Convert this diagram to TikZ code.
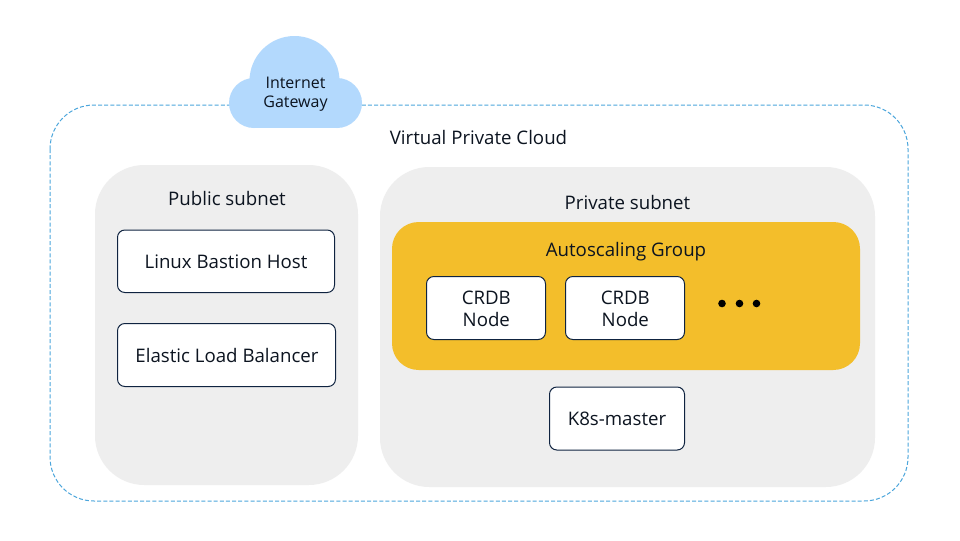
\documentclass[tikz,border=0pt]{standalone}
\usepackage{fontspec}
\setmainfont{Open Sans}
\definecolor{cloudblue}{HTML}{B3D9FD}
\definecolor{dashblue}{HTML}{4CA6DC}
\definecolor{panelgray}{HTML}{EEEEEE}
\definecolor{asgyellow}{HTML}{F3BE2B}
\definecolor{boxline}{HTML}{0F2340}
\definecolor{inktext}{HTML}{0C1420}
\tikzset{
  x=0.75pt,y=-0.75pt,
  txt/.style={inner sep=0pt,text=inktext,font=\fontsize{14pt}{16.5pt}\selectfont,align=center},
  whitebox/.style={draw=boxline,fill=white,line width=0.75pt,rounded corners=5.5pt},
  panel/.style={fill=panelgray,rounded corners=37pt},
}
\begin{document}
\begin{tikzpicture}
\useasboundingbox (0,0) rectangle (960,540);
\fill[white] (0,0) rectangle (960,540);
\draw[dashblue,line width=0.75pt,dash pattern=on 3pt off 1.6pt,rounded corners=33pt] (50,105) rectangle (908,501);
\fill[panel] (95,165) rectangle (358,485);
\fill[panel] (380,167) rectangle (875,487);
\fill[asgyellow,rounded corners=20pt] (392,222) rectangle (860,370);
\fill[cloudblue] (294.5,81) circle[radius=45];
\fill[cloudblue] (254,103) circle[radius=25];
\fill[cloudblue] (337,103) circle[radius=25];
\fill[cloudblue] (254,90) rectangle (337,128);
\node[txt,font=\fontsize{12pt}{14.4pt}\selectfont] (igw) at (295.5,94.5) {Internet\\Gateway};
\node[txt] (vpc) at (478.5,137.3) {Virtual Private Cloud};
\node[txt] (pub) at (227,198.3) {Public subnet};
\node[txt] (pri) at (627.5,202.2) {Private subnet};
\node[txt] (asg) at (626,251.7) {Autoscaling Group};
\draw[whitebox] (117.5,230) rectangle (334.5,292.5);
\node[txt] (lbh) at (226,261.7) {Linux Bastion Host};
\draw[whitebox] (117.5,323.5) rectangle (335.5,386.5);
\node[txt] (elb) at (227,355.2) {Elastic Load Balancer};
\draw[whitebox] (426.5,276.5) rectangle (545.5,339.5);
\node[txt] (n1) at (486.3,308.7) {CRDB\\Node};
\draw[whitebox] (565.5,276.5) rectangle (684.5,339.5);
\node[txt] (n2) at (625.3,308.7) {CRDB\\Node};
\fill[black] (722,303.5) circle[radius=3.8] (739.5,303.5) circle[radius=3.8] (756.5,303.5) circle[radius=3.8];
\draw[whitebox] (549.5,387) rectangle (684.5,450);
\node[txt] (k8s) at (617,419.3) {K8s-master};
\end{tikzpicture}
\end{document}
